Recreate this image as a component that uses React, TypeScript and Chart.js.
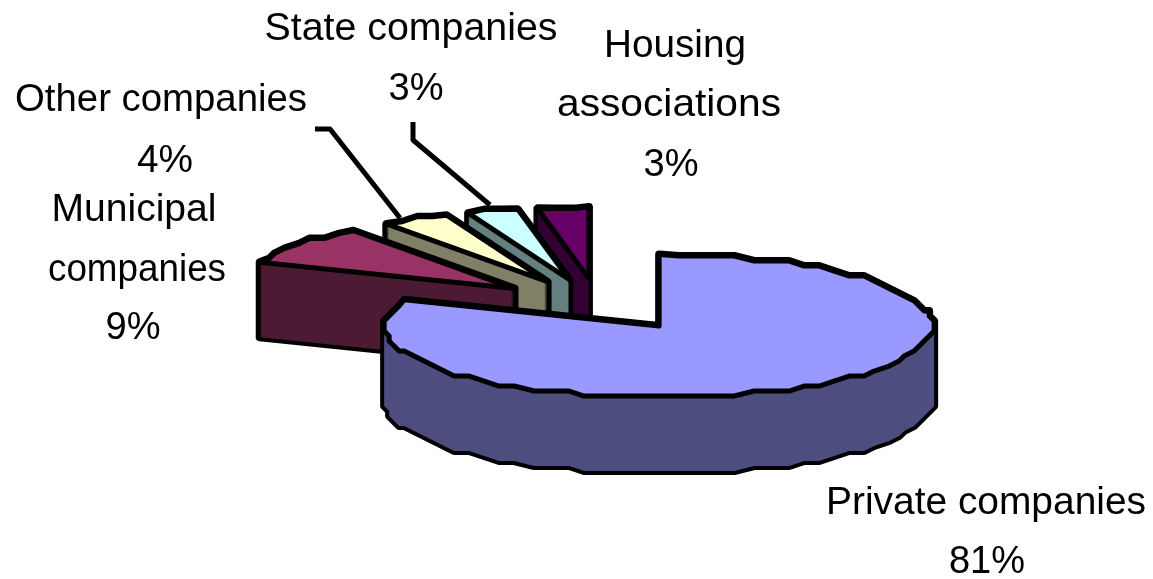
import React, { useEffect, useRef } from "react";
import { Chart, registerables } from "chart.js";

Chart.register(...registerables);

const categories = ["Private companies", "Municipal companies", "Other companies", "State companies", "Housing associations"];
const shares = [81, 9, 4, 3, 3];
const topColors = ["#9999FF", "#993366", "#FFFFCC", "#CCFFFF", "#660066"];
const wallColors = ["#4D4D80", "#4D1A33", "#808066", "#668080", "#330033"];

const WIDTH = 1153;
const HEIGHT = 579;
const RADIUS = 274;
const SQUASH = 0.261;
const DEPTH = 75;
const EXPLODE_X = 107;
const EXPLODE_Y = 26;
const STEP = (4 * Math.PI) / 180;
const GRID = 5;
const LINE = 5;

type TextPlace = { text: string; x: number; y: number; w: number };
const FONT = '38.5px "Liberation Sans", Arial, sans-serif';
const labelPlaces: TextPlace[] = [
  { text: categories[0], x: 986, y: 514, w: 320 },
  { text: `${shares[0]}%`, x: 987, y: 573, w: 76 },
  { text: "Municipal", x: 134, y: 221, w: 165 },
  { text: "companies", x: 137, y: 281, w: 178 },
  { text: `${shares[1]}%`, x: 133, y: 339, w: 55 },
  { text: categories[2], x: 161, y: 111, w: 292 },
  { text: `${shares[2]}%`, x: 165, y: 172, w: 56 },
  { text: categories[3], x: 411, y: 40, w: 293 },
  { text: `${shares[3]}%`, x: 416, y: 100, w: 55 },
  { text: "Housing", x: 675, y: 57, w: 142 },
  { text: "associations", x: 669, y: 116, w: 224 },
  { text: `${shares[4]}%`, x: 671, y: 176, w: 55 },
];
const leaders: number[][][] = [
  [[315, 129], [330, 129], [400, 218]],
  [[413, 122], [413, 140], [490, 205]],
];

const snap = (v: number) => Math.round(v / GRID) * GRID;

function slicePoints(arc: any): [number, number][] {
  const mid = (arc.startAngle + arc.endAngle) / 2;
  const ox = arc.x + Math.cos(mid) * EXPLODE_X;
  const oy = arc.y + Math.sin(mid) * EXPLODE_Y;
  const pts: [number, number][] = [[ox, oy]];
  const dx = (a: number) => Math.cos(a) * arc.outerRadius;
  const dy = (a: number) => Math.sin(a) * arc.outerRadius * SQUASH;
  pts.push([ox + dx(arc.startAngle), oy + dy(arc.startAngle)]);
  const n = Math.max(1, Math.round((arc.endAngle - arc.startAngle) / STEP));
  for (let i = 1; i < n; i++) {
    const a = arc.startAngle + ((arc.endAngle - arc.startAngle) * i) / n;
    pts.push([ox + snap(dx(a)), oy + snap(dy(a))]);
  }
  pts.push([ox + dx(arc.endAngle), oy + dy(arc.endAngle)]);
  return pts;
}

function addLayer(ctx: CanvasRenderingContext2D, pts: [number, number][], dy: number) {
  pts.forEach(([x, y], i) => (i === 0 ? ctx.moveTo(x, y + dy) : ctx.lineTo(x, y + dy)));
  ctx.closePath();
}

const piePlugin = {
  id: "tiltedPie",
  beforeDatasetsDraw(chart: any) {
    const ctx: CanvasRenderingContext2D = chart.ctx;
    const arcs = chart.getDatasetMeta(0).data;
    ctx.save();
    ctx.lineJoin = "round";
    ctx.lineCap = "butt";
    const order = arcs.map((_: any, i: number) => i).reverse();
    order.forEach((i: number) => {
      const pts = slicePoints(arcs[i]);
      // the swept solid: one path holding every layer, so it is filled only once
      ctx.beginPath();
      for (let dy = DEPTH; dy >= 0; dy -= 1) addLayer(ctx, pts, dy);
      ctx.strokeStyle = "#000";
      ctx.lineWidth = LINE + 3;
      ctx.stroke();
      ctx.fillStyle = wallColors[i];
      ctx.fill();
      ctx.beginPath();
      addLayer(ctx, pts, 0);
      ctx.fillStyle = topColors[i];
      ctx.fill();
      ctx.lineWidth = LINE;
      ctx.stroke();
    });
    ctx.lineWidth = LINE;
    ctx.strokeStyle = "#000";
    leaders.forEach((line) => {
      ctx.beginPath();
      line.forEach(([x, y], i) => (i === 0 ? ctx.moveTo(x, y) : ctx.lineTo(x, y)));
      ctx.stroke();
    });
    ctx.fillStyle = "#000";
    ctx.font = FONT;
    ctx.textAlign = "center";
    ctx.textBaseline = "alphabetic";
    labelPlaces.forEach((p) => {
      const sx = p.w / ctx.measureText(p.text).width;
      ctx.save();
      ctx.translate(p.x, p.y);
      ctx.scale(sx, 1);
      ctx.fillText(p.text, 0, 0);
      ctx.restore();
    });
    ctx.restore();
    return false;
  },
};

export default function App() {
  const ref = useRef<HTMLCanvasElement>(null);
  useEffect(() => {
    if (!ref.current) return;
    const chart = new Chart(ref.current, {
      type: "pie",
      data: {
        labels: categories,
        datasets: [{ data: shares, backgroundColor: topColors, borderWidth: 0, radius: RADIUS }],
      },
      options: {
        responsive: false,
        animation: false,
        layout: { padding: { left: 45, top: 30, right: 0, bottom: 0 } },
        plugins: { legend: { display: false }, tooltip: { enabled: false } },
      },
      plugins: [piePlugin],
    } as any);
    return () => chart.destroy();
  }, []);
  return (
    <div style={{ position: "absolute", left: 0, top: 0, width: WIDTH, height: HEIGHT, background: "#fff" }}>
      <canvas ref={ref} width={WIDTH} height={HEIGHT} style={{ display: "block" }} />
    </div>
  );
}
